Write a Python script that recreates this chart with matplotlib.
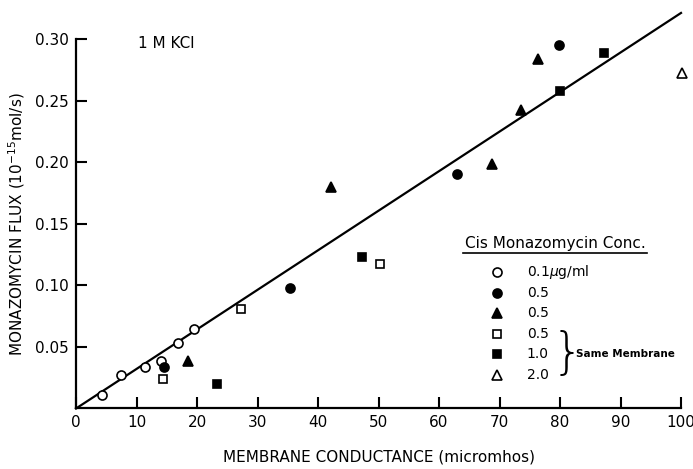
import numpy as np
import matplotlib.pyplot as plt

# data
open_circ_x = [4.35, 7.4, 11.35, 14.05, 16.9, 19.45]
open_circ_y = [0.011, 0.027, 0.034, 0.039, 0.053, 0.065]
fill_circ_x = [14.6, 35.4, 63.0, 79.9]
fill_circ_y = [0.034, 0.098, 0.191, 0.2955]
fill_tri_x = [18.55, 42.15, 68.8, 73.5, 76.4]
fill_tri_y = [0.039, 0.180, 0.199, 0.243, 0.284]
open_sq_x = [14.3, 27.2, 50.25]
open_sq_y = [0.024, 0.081, 0.1175]
fill_sq_x = [23.3, 47.3, 79.95, 87.2]
fill_sq_y = [0.020, 0.123, 0.258, 0.289]
open_tri_x = [100.2]
open_tri_y = [0.273]
fit_x = [0, 100]
fit_y = [0, 0.3215]

legend_labels = ['0.1$\\mu$g/ml', '0.5', '0.5', '0.5', '1.0', '2.0']

plt.rcParams['font.family'] = 'DejaVu Sans'
fig = plt.figure(figsize=(6.93, 4.69), dpi=100)
ax = fig.add_axes([0.1097, 0.129, 0.873, 0.787])

ax.plot(fit_x, fit_y, color='black', lw=1.6, clip_on=False, zorder=2)

ms = 6.5
series = [
    (open_circ_x, open_circ_y, 'o', 'white'),
    (fill_circ_x, fill_circ_y, 'o', 'black'),
    (fill_tri_x, fill_tri_y, '^', 'black'),
    (open_sq_x, open_sq_y, 's', 'white'),
    (fill_sq_x, fill_sq_y, 's', 'black'),
    (open_tri_x, open_tri_y, '^', 'white'),
]
for xs, ys, m, fc in series:
    ax.plot(xs, ys, linestyle='', marker=m, markersize=ms if m != 's' else 5.5,
            markerfacecolor=fc, markeredgecolor='black', markeredgewidth=1.2,
            clip_on=False, zorder=3)

ax.set_xlim(0, 100)
ax.set_ylim(0, 0.30)
ax.set_xticks(np.arange(0, 101, 10))
ax.set_yticks([0.05, 0.10, 0.15, 0.20, 0.25, 0.30])
ax.set_yticklabels(['0.05', '0.10', '0.15', '0.20', '0.25', '0.30'])
ax.tick_params(direction='in', length=8, width=1.5, labelsize=11, pad=5)
for s in ['top', 'right']:
    ax.spines[s].set_visible(False)
for s in ['left', 'bottom']:
    ax.spines[s].set_linewidth(1.6)

ax.set_xlabel('MEMBRANE CONDUCTANCE (micromhos)', fontsize=11, labelpad=14)
ax.set_ylabel('MONAZOMYCIN FLUX (10$^{-15}$mol/s)', fontsize=11, labelpad=6)

ax.text(0.103, 0.99, '1 M KCl', transform=ax.transAxes, fontsize=11,
        ha='left', va='center')

# hand-made legend
ax.text(0.792, 0.446, 'Cis Monazomycin Conc.', transform=ax.transAxes,
        fontsize=11, ha='center', va='center')
ax.plot([0.64, 0.944], [0.422, 0.422], transform=ax.transAxes, color='black',
        lw=1.2, clip_on=False)
row_y = [0.370, 0.313, 0.259, 0.203, 0.147, 0.090]
for (xs, ys, m, fc), lab, ry in zip(series, legend_labels, row_y):
    ax.plot([0.696], [ry], transform=ax.transAxes, linestyle='',
            marker=m, markersize=ms if m != 's' else 5.5, markerfacecolor=fc,
            markeredgecolor='black', markeredgewidth=1.2, clip_on=False)
    ax.text(0.745, ry, lab, transform=ax.transAxes, fontsize=10,
            ha='left', va='center')
ax.text(0.786, 0.147, '}', transform=ax.transAxes, fontsize=36,
        fontweight='light', ha='left', va='center')
ax.text(0.826, 0.147, 'Same Membrane', transform=ax.transAxes, fontsize=7.5,
        fontweight='bold', ha='left', va='center')

fig.savefig('out.png', dpi=100)
